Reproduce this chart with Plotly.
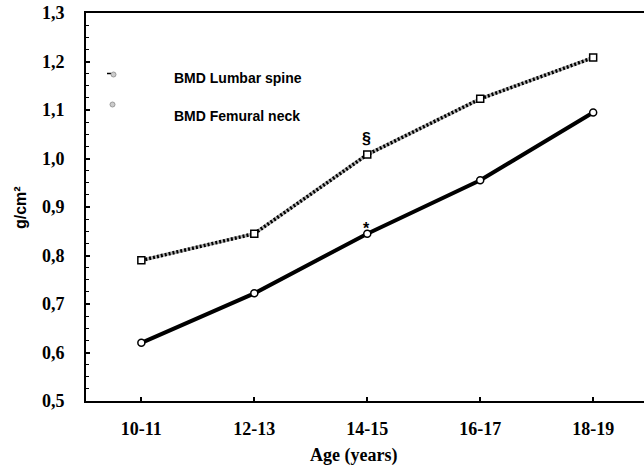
import plotly.graph_objects as go

categories = ["10-11", "12-13", "14-15", "16-17", "18-19"]
lumbar_spine = [0.79, 0.845, 1.008, 1.123, 1.208]
femural_neck = [0.62, 0.722, 0.845, 0.955, 1.095]
y_ticks = [0.5, 0.6, 0.7, 0.8, 0.9, 1.0, 1.1, 1.2, 1.3]
y_ticktext = ["0,5", "0,6", "0,7", "0,8", "0,9", "1,0", "1,1", "1,2", "1,3"]
sig_marks = [("§", 2, lumbar_spine[2], 16), ("*", 2, femural_neck[2], 5)]

x = list(range(len(categories)))

PL, PT, PR, PB = 86, 13, 644, 401  # plot area in page pixels
W, H = 644, 466

fig = go.Figure()
fig.add_trace(go.Scatter(x=x, y=lumbar_spine, mode="lines",
                         line=dict(color="#b0b0b0", width=3.5), showlegend=False, hoverinfo="skip"))
fig.add_trace(go.Scatter(x=x, y=lumbar_spine, mode="lines+markers",
                         line=dict(color="black", width=3.5, dash="2px,2px"),
                         marker=dict(symbol="square", size=7, color="white",
                                     line=dict(color="black", width=1.5)),
                         name="BMD Lumbar spine", showlegend=False))
fig.add_trace(go.Scatter(x=x, y=femural_neck, mode="lines+markers",
                         line=dict(color="black", width=4),
                         marker=dict(symbol="circle", size=7, color="white",
                                     line=dict(color="black", width=1.5)),
                         name="BMD Femural neck", showlegend=False))


def px(xp):
    return (xp - PL) / (PR - PL)


def py(yp):
    return (PB - yp) / (PB - PT)


annotations = []
for txt, xi, yv, shift in sig_marks:
    annotations.append(dict(x=xi, y=yv, text=f"<b>{txt}</b>", showarrow=False,
                            yshift=shift, xshift=-1,
                            font=dict(family="Liberation Sans", size=16, color="black")))

annotations.append(dict(xref="paper", yref="paper", x=px(172), y=py(78),
                        xanchor="left", yanchor="middle", showarrow=False,
                        text="<b>BMD Lumbar spine</b>",
                        font=dict(family="Liberation Sans", size=14, color="black")))
annotations.append(dict(xref="paper", yref="paper", x=px(172), y=py(116),
                        xanchor="left", yanchor="middle", showarrow=False,
                        text="<b>BMD Femural neck</b>",
                        font=dict(family="Liberation Sans", size=14, color="black")))
annotations.append(dict(xref="paper", yref="paper", x=px(353), y=py(455),
                        xanchor="center", yanchor="middle", showarrow=False,
                        text="<b>Age (years)</b>",
                        font=dict(family="Liberation Serif", size=18, color="black")))
annotations.append(dict(xref="paper", yref="paper", x=px(20), y=py(208),
                        xanchor="center", yanchor="middle", showarrow=False, textangle=-90,
                        text="<b>g/cm²</b>",
                        font=dict(family="Liberation Sans", size=16, color="black")))

shapes = [
    dict(type="line", xref="paper", yref="paper", x0=px(107), x1=px(111), y0=py(73.5), y1=py(73.5),
         line=dict(color="black", width=1.5)),
    dict(type="circle", xref="paper", yref="paper", x0=px(111), x1=px(116), y0=py(72), y1=py(77),
         line=dict(color="#999999", width=1), fillcolor="#cccccc"),
    dict(type="circle", xref="paper", yref="paper", x0=px(110), x1=px(115), y0=py(102), y1=py(107),
         line=dict(color="#999999", width=1), fillcolor="#cccccc"),
]

fig.update_layout(
    width=W, height=H,
    margin=dict(l=PL, r=W - PR, t=PT, b=H - PB, autoexpand=False),
    plot_bgcolor="white", paper_bgcolor="white",
    showlegend=False,
    annotations=annotations,
    shapes=shapes,
    xaxis=dict(
        range=[-0.49, 4.45], tickmode="array", tickvals=x,
        ticktext=[f"<b>{c}</b>" for c in categories],
        showgrid=False, zeroline=False, showline=True, linecolor="black", linewidth=2,
        mirror=True, ticks="inside", ticklen=4, tickwidth=1.5, tickcolor="black",
        automargin=False, ticklabelstandoff=10, ticklabeloverflow="allow",
        tickfont=dict(family="Liberation Serif", size=18, color="black"),
    ),
    yaxis=dict(
        range=[0.5, 1.3], tickmode="array", tickvals=y_ticks,
        ticktext=[f"<b>{t}</b>" for t in y_ticktext],
        showgrid=False, zeroline=False, showline=True, linecolor="black", linewidth=2,
        ticks="inside", ticklen=4, tickwidth=1.5, tickcolor="black",
        minor=dict(ticks="inside", ticklen=3, tickwidth=1, tickcolor="black", dtick=0.025, showgrid=False),
        automargin=False, ticklabelstandoff=16, ticklabeloverflow="allow",
        tickfont=dict(family="Liberation Serif", size=18, color="black"),
    ),
)

fig.write_html("out.html", config={"displayModeBar": False},
               post_script="document.body.style.margin='0';document.body.style.overflow='hidden';")
